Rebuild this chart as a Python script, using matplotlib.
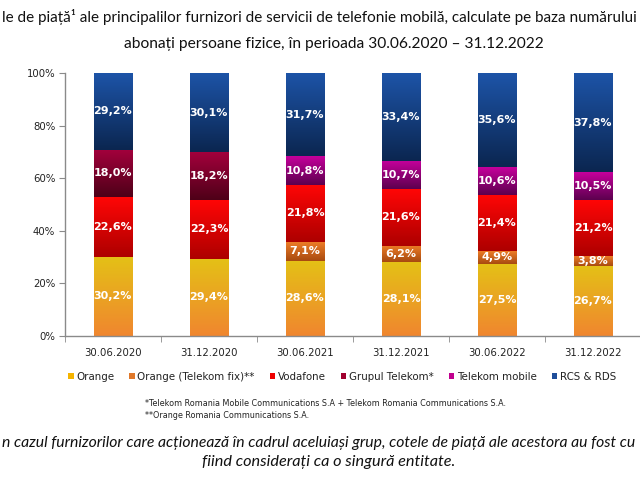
import numpy as np
import matplotlib
matplotlib.use("Agg")
import matplotlib.pyplot as plt
from matplotlib.colors import LinearSegmentedColormap
from matplotlib.patches import Patch
from matplotlib.ticker import FuncFormatter, MultipleLocator, FixedLocator

# ---------------- data ----------------
categories = ["30.06.2020", "31.12.2020", "30.06.2021", "31.12.2021", "30.06.2022", "31.12.2022"]
series_names = ["Orange", "Orange (Telekom fix)**", "Vodafone", "Grupul Telekom*", "Telekom mobile", "RCS & RDS"]
orange = [30.2, 29.4, 28.6, 28.1, 27.5, 26.7]
orange_telekom_fix = [0.0, 0.0, 7.1, 6.2, 4.9, 3.8]
vodafone = [22.6, 22.3, 21.8, 21.6, 21.4, 21.2]
grupul_telekom = [18.0, 18.2, 0.0, 0.0, 0.0, 0.0]
telekom_mobile = [0.0, 0.0, 10.8, 10.7, 10.6, 10.5]
rcs_rds = [29.2, 30.1, 31.7, 33.4, 35.6, 37.8]
series_values = [orange, orange_telekom_fix, vodafone, grupul_telekom, telekom_mobile, rcs_rds]

# gradient colours (top, bottom) and legend colours
grad_colors = [("#e4c116", "#f0862f"),
               ("#ec7c26", "#a84a10"),
               ("#ff0606", "#ad0000"),
               ("#a3003c", "#4e0018"),
               ("#c6009c", "#5c004e"),
               ("#1d54a8", "#0b2650")]
legend_colors = ["#f5b400", "#e0782a", "#ee0000", "#a0002e", "#c0008e", "#1f4e9a"]

title_line1 = "le de piață¹ ale principalilor furnizori de servicii de telefonie mobilă, calculate pe baza numărului"
title_line2 = "abonați persoane fizice, în perioada 30.06.2020 – 31.12.2022"
foot1 = "*Telekom Romania Mobile Communications S.A + Telekom Romania Communications S.A."
foot2 = "**Orange Romania Communications S.A."
note1 = "n cazul furnizorilor care acționează în cadrul aceluiași grup, cotele de piață ale acestora au fost cu"
note2 = "fiind considerați ca o singură entitate."

W, H = 640, 480
fig = plt.figure(figsize=(6.4, 4.8), dpi=100)
ax = fig.add_axes([65 / W, 1 - 336 / H, 576 / W, (336 - 73) / H])

x = np.arange(len(categories))
bw = 0.40
bottom = np.zeros(len(categories))
for vals, (ctop, cbot) in zip(series_values, grad_colors):
    vals = np.array(vals)
    bars = ax.bar(x, vals, bw, bottom=bottom, facecolor="none", edgecolor="none", zorder=2)
    cmap = LinearSegmentedColormap.from_list("g", [cbot, ctop])
    grad = np.linspace(0, 1, 128).reshape(-1, 1)
    for b, v, b0 in zip(bars, vals, bottom):
        if v <= 0:
            continue
        x0 = b.get_x()
        im = ax.imshow(grad, cmap=cmap, origin="lower", aspect="auto",
                       extent=[x0, x0 + b.get_width(), b0, b0 + v], zorder=1,
                       interpolation="bilinear")
        im.set_clip_path(b)
        label = f"{v:.1f}%".replace(".", ",")
        ax.text(b.get_x() + b.get_width() / 2, b0 + v / 2, label, ha="center", va="center",
                color="white", fontsize=8, fontweight="bold", family="DejaVu Sans", zorder=3)
    bottom = bottom + vals

ax.set_xlim(-0.5, len(categories) - 0.5)
ax.set_ylim(0, 100)
ax.yaxis.set_major_locator(MultipleLocator(20))
ax.yaxis.set_major_formatter(FuncFormatter(lambda v, p: f"{v:.0f}%"))
ax.set_xticks(x)
ax.set_xticklabels(categories)
ax.xaxis.set_minor_locator(FixedLocator(np.arange(-0.5, len(categories), 1.0)))
ax.tick_params(axis="x", which="major", length=0, pad=9, labelsize=7.3, labelcolor="#222222")
ax.tick_params(axis="x", which="minor", length=4, direction="out", color="#8a8a8a")
ax.tick_params(axis="y", length=4, direction="out", color="#8a8a8a", labelsize=7.3,
               labelcolor="#222222", pad=3)
for s in ["top", "right"]:
    ax.spines[s].set_visible(False)
for s in ["left", "bottom"]:
    ax.spines[s].set_color("#8a8a8a")
    ax.spines[s].set_linewidth(1.0)

# legend
handles = [Patch(facecolor=c, edgecolor="none") for c in legend_colors]
fig.legend(handles, series_names, loc="center", bbox_to_anchor=(342 / W, 1 - 377 / H), ncol=6,
           frameon=False, fontsize=7.4, handlelength=0.55, handleheight=0.55, handletextpad=0.25,
           columnspacing=1.45, labelcolor="#222222")

# footnotes
fig.text(145 / W, 1 - 404 / H, foot1, fontsize=5.8, color="#222222", va="center", ha="left")
fig.text(145 / W, 1 - 416 / H, foot2, fontsize=5.8, color="#222222", va="center", ha="left")

# title and note texts
fig.canvas.draw()
renderer = fig.canvas.get_renderer()

def fit_text(xpx, ypx, s, target_w, ha, **kw):
    t = fig.text(xpx / W, 1 - ypx / H, s, ha=ha, va="center", **kw)
    fs = kw.get("fontsize", 10)
    w = t.get_window_extent(renderer).width
    t.set_fontsize(fs * target_w / w)
    return t

fit_text(2, 17, title_line1, 634, "left", fontsize=11, family="Lato", color="#111111")
fit_text(334, 44, title_line2, 421, "center", fontsize=11, family="Lato", color="#111111")
fit_text(2, 443, note1, 632, "left", fontsize=11, family="Lato", style="italic", color="#111111")
fit_text(329, 462, note2, 253, "center", fontsize=11, family="Lato", style="italic", color="#111111")

fig.savefig("out.png", dpi=100)
